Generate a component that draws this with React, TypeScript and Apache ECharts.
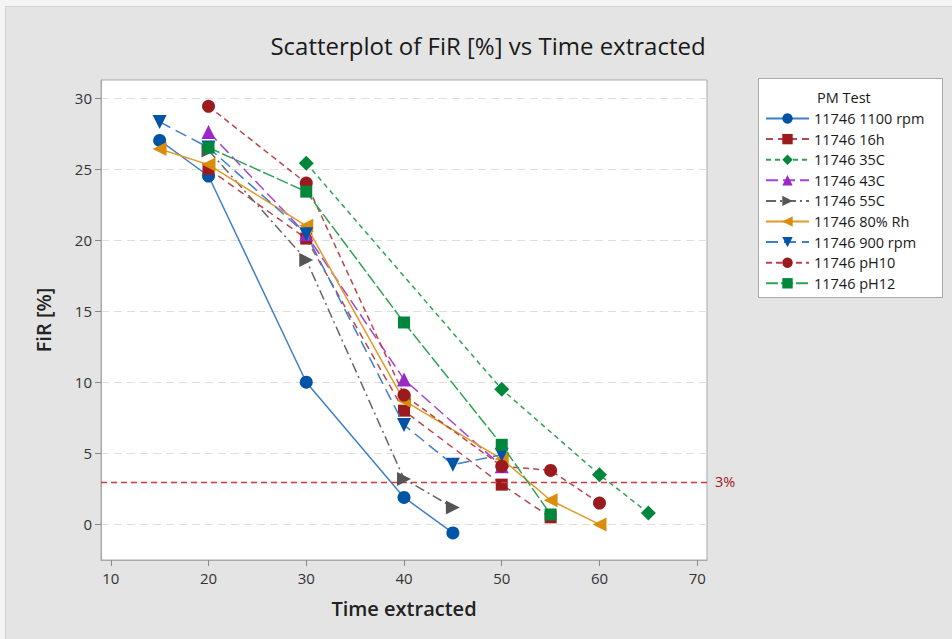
import React, { useEffect, useRef } from "react";
import * as echarts from "echarts";

// ---- data ----
const seriesNames = [
  "11746 1100 rpm",
  "11746 16h",
  "11746 35C",
  "11746 43C",
  "11746 55C",
  "11746 80% Rh",
  "11746 900 rpm",
  "11746 pH10",
  "11746 pH12",
];
const x1100 = [15, 20, 30, 40, 45];
const y1100 = [27.0, 24.5, 10.0, 1.9, -0.6];
const x16h = [20, 30, 40, 50, 55];
const y16h = [25.0, 20.1, 8.0, 2.8, 0.5];
const x35C = [30, 50, 60, 65];
const y35C = [25.4, 9.5, 3.5, 0.8];
const x43C = [20, 30, 40, 50];
const y43C = [27.6, 20.4, 10.2, 4.1];
const x55C = [20, 30, 40, 45];
const y55C = [26.3, 18.6, 3.2, 1.2];
const x80Rh = [15, 20, 30, 40, 50, 55, 60];
const y80Rh = [26.4, 25.3, 21.0, 8.7, 4.6, 1.7, 0.0];
const x900 = [15, 20, 30, 40, 45, 50];
const y900 = [28.3, 26.5, 20.4, 7.0, 4.2, 4.9];
const xpH10 = [20, 30, 40, 50, 55, 60];
const ypH10 = [29.4, 24.0, 9.1, 4.1, 3.8, 1.5];
const xpH12 = [20, 30, 40, 50, 55];
const ypH12 = [26.5, 23.4, 14.2, 5.6, 0.7];

const xTicks = [10, 20, 30, 40, 50, 60, 70];
const yTicks = [0, 5, 10, 15, 20, 25, 30];
const refValue = 3;
const refLabel = "3%";

const xs = [x1100, x16h, x35C, x43C, x55C, x80Rh, x900, xpH10, xpH12];
const ys = [y1100, y16h, y35C, y43C, y55C, y80Rh, y900, ypH10, ypH12];

// ---- styles ----
const styles = [
  { symbol: "circle", rot: 0, size: 13, mc: "#0054A6", lc: "#3f7fc8", dash: "solid" as any },
  { symbol: "rect", rot: 0, size: 12, mc: "#9b1a1e", lc: "#b8464c", dash: [7, 5] },
  { symbol: "diamond", rot: 0, size: 15, mc: "#00873c", lc: "#2ea350", dash: [5, 4] },
  { symbol: "triangle", rot: 0, size: 14, mc: "#9b27c8", lc: "#a842d4", dash: [12, 5] },
  { symbol: "triangle", rot: -90, size: 14, mc: "#555555", lc: "#666666", dash: [10, 4, 2, 4] },
  { symbol: "triangle", rot: 90, size: 14, mc: "#da8d0b", lc: "#e19a25", dash: "solid" as any },
  { symbol: "triangle", rot: 180, size: 14, mc: "#0054A6", lc: "#3f7fc8", dash: [12, 6] },
  { symbol: "circle", rot: 0, size: 13, mc: "#9b1a1e", lc: "#b8464c", dash: [6, 4] },
  { symbol: "rect", rot: 0, size: 12, mc: "#00873c", lc: "#2ea350", dash: [12, 3] },
];

const FONT = "'Open Sans', 'Noto Sans', sans-serif";

export default function App() {
  const ref = useRef<HTMLDivElement>(null);
  useEffect(() => {
    if (!ref.current) return;
    const chart = echarts.init(ref.current, undefined, { renderer: "svg" });
    const series: any[] = seriesNames.map((name, i) => {
      const st = styles[i];
      const s: any = {
        name,
        type: "line",
        data: xs[i].map((x, j) => [x, ys[i][j]]),
        symbol: st.symbol,
        symbolRotate: st.rot,
        symbolSize: st.size,
        itemStyle: { color: st.mc },
        lineStyle: { color: st.lc, width: 1.5, type: st.dash },
        z: 3 + i,
      };
      if (i === 0) {
        s.markLine = {
          silent: true,
          symbol: "none",
          animation: false,
          lineStyle: { color: "#cc3b3b", type: [6, 4], width: 1.3 },
          label: {
            show: true,
            position: "end",
            formatter: refLabel,
            color: "#a0181e",
            fontSize: 14.5,
            fontFamily: FONT,
            distance: 8,
          },
          data: [{ yAxis: refValue }],
        };
      }
      return s;
    });
    chart.setOption({
      animation: false,
      backgroundColor: "#f4f4f4",
      textStyle: { fontFamily: FONT },
      title: {
        text: "Scatterplot of FiR [%] vs Time extracted",
        left: 483,
        top: 28,
        textAlign: "center",
        textStyle: { fontSize: 24, fontWeight: "normal", color: "#1a1a1a", fontFamily: FONT },
      },
      grid: {
        left: 101,
        top: 80,
        width: 606,
        height: 480,
        show: true,
        backgroundColor: "#ffffff",
        borderColor: "#a9a9a9",
        borderWidth: 1,
      },
      xAxis: {
        type: "value",
        min: 9,
        max: 71,
        name: "Time extracted",
        nameLocation: "middle",
        nameGap: 38,
        nameTextStyle: { fontSize: 20, fontWeight: 600, color: "#222", fontFamily: FONT },
        axisLine: { show: true, onZero: false, lineStyle: { color: "#a9a9a9" } },
        axisTick: { show: true, length: 6, customValues: xTicks, lineStyle: { color: "#888" } },
        axisLabel: { customValues: xTicks, fontSize: 15, color: "#333", margin: 10 },
        splitLine: { show: false },
      },
      yAxis: {
        type: "value",
        min: -2.5,
        max: 31.25,
        interval: 2.5,
        name: "FiR [%]",
        nameLocation: "middle",
        nameGap: 48,
        nameTextStyle: { fontSize: 20, fontWeight: 600, color: "#222", fontFamily: FONT },
        axisLine: { show: true, onZero: false, lineStyle: { color: "#a9a9a9" } },
        axisTick: { show: true, length: 6, customValues: yTicks, lineStyle: { color: "#888" } },
        axisLabel: {
          customValues: yTicks,
          fontSize: 15,
          color: "#333",
          margin: 9,
          formatter: (v: number) => (Math.abs(v % 5) < 1e-6 && v >= 0 ? String(v) : ""),
        },
        splitLine: { show: true, lineStyle: { color: "#dedede", type: [8, 5], width: 1.2 } },
      },
      legend: {
        orient: "vertical",
        left: 765,
        top: 111,
        padding: 0,
        itemWidth: 43,
        itemHeight: 13,
        itemGap: 5.6,
        selectedMode: false,
        textStyle: { fontSize: 14.5, lineHeight: 14, color: "#1a1a1a", fontFamily: FONT },
        data: seriesNames,
      },
      graphic: [
        {
          type: "rect",
          left: 5,
          top: 6,
          shape: { width: 960, height: 650 },
          style: { fill: "#e4e4e4", stroke: "#d4d4d4", lineWidth: 1 },
          z: -10,
          silent: true,
        },
        {
          type: "rect",
          left: 758,
          top: 78,
          shape: { width: 184, height: 219 },
          style: { fill: "#ffffff", stroke: "#a9a9a9", lineWidth: 1 },
          z: -1,
        },
        {
          type: "text",
          left: 817,
          top: 90,
          style: { text: "PM Test", fontSize: 14.5, fill: "#1a1a1a", fontFamily: FONT },
        },
      ],
      series,
    });
    return () => chart.dispose();
  }, []);
  return (
    <div
      ref={ref}
      style={{ position: "fixed", left: 0, top: 0, width: 952, height: 639 }}
    />
  );
}
